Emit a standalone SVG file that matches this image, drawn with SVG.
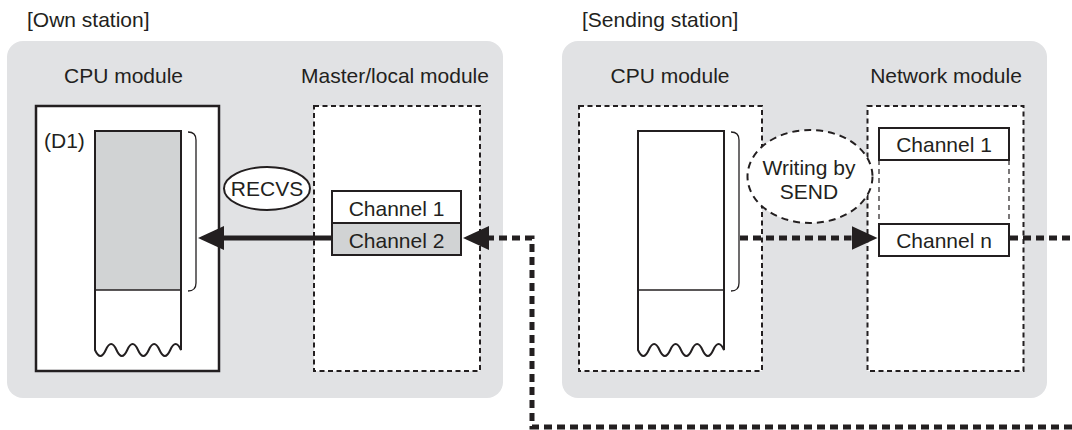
<svg xmlns="http://www.w3.org/2000/svg" width="1072" height="430" viewBox="0 0 1072 430">
<style>
text{font-family:"Liberation Sans",Arial,sans-serif;font-size:21px;fill:#231f20}
.mid{text-anchor:middle}
.panel{fill:#e1e2e4;stroke:none}
.solid{fill:#fff;stroke:#231f20;stroke-width:2.5}
.dash{fill:#fff;stroke:#231f20;stroke-width:2;stroke-dasharray:5 3.5}
.buf{fill:#fff;stroke:#231f20;stroke-width:2}
.gray{fill:#d1d3d4}
.thin{fill:none;stroke:#231f20;stroke-width:1.3}
.box{stroke:#231f20;stroke-width:2}
.conn{fill:none;stroke:#231f20;stroke-width:5;stroke-dasharray:8 5}
</style>
<defs>
<marker id="ah" markerUnits="userSpaceOnUse" viewBox="0 0 26 24" refX="0" refY="12" markerWidth="26" markerHeight="24" orient="auto">
<path d="M0,0 L26,12 L0,24 z" fill="#231f20"/>
</marker>
</defs>

<g id="own-station">
<text x="27" y="27">[Own station]</text>
<rect class="panel" x="7" y="41" width="496" height="357" rx="16"/>
</g>
<g id="sending-station">
<text x="582" y="27">[Sending station]</text>
<rect class="panel" x="562" y="41" width="485" height="357" rx="16"/>
</g>

<g id="own-cpu">
<text class="mid" x="123.5" y="83">CPU module</text>
<rect class="solid" x="36" y="106" width="183" height="265"/>
<text x="44" y="148">(D1)</text>
<path class="buf" d="M95,131 H181 V350 q-5.375,-12 -10.75,0 t-10.75,0 t-10.75,0 t-10.75,0 t-10.75,0 t-10.75,0 t-10.75,0 t-10.75,0 Z"/>
<rect class="gray" x="96" y="132" width="84" height="158"/>
<path class="thin" d="M95,290 H181" style="stroke-width:1.5"/>
<path class="thin" d="M188,132 Q196,132 196,140 V283 Q196,291 188,291"/>
</g>

<g id="master-local">
<text class="mid" x="395" y="83">Master/local module</text>
<rect class="dash" x="314" y="106" width="166" height="265"/>
<rect class="box" x="332" y="191" width="129" height="32" fill="#fff"/>
<text class="mid" x="396.5" y="216">Channel 1</text>
<rect class="box gray" x="332" y="223" width="129" height="32"/>
<text class="mid" x="396.5" y="248">Channel 2</text>
</g>

<g id="recvs">
<ellipse cx="267" cy="188.5" rx="43" ry="21.5" fill="#fff" stroke="#231f20" stroke-width="2"/>
<text class="mid" x="267" y="196">RECVS</text>
</g>

<g id="send-cpu">
<text class="mid" x="670" y="83">CPU module</text>
<rect class="dash" x="579" y="106" width="183" height="265"/>
<path class="buf" d="M638,131 H724 V350 q-5.375,-12 -10.75,0 t-10.75,0 t-10.75,0 t-10.75,0 t-10.75,0 t-10.75,0 t-10.75,0 t-10.75,0 Z"/>
<path class="thin" d="M638,290 H724" style="stroke-width:1.5"/>
<path class="thin" d="M731,132 Q739,132 739,140 V283 Q739,291 731,291"/>
</g>

<g id="network-module">
<text class="mid" x="946" y="83">Network module</text>
<rect class="dash" x="867.5" y="106" width="156" height="265"/>
<path d="M879,160 V224 M1009,160 V224" fill="none" stroke="#231f20" stroke-width="1.2" stroke-dasharray="5 4"/>
<rect class="box" x="879" y="128" width="130" height="32" fill="#fff"/>
<text class="mid" x="944" y="152">Channel 1</text>
<rect class="box" x="879" y="224" width="130" height="32" fill="#fff"/>
<text class="mid" x="944" y="248">Channel n</text>
</g>

<g id="writing-by-send">
<ellipse cx="810" cy="176.5" rx="62.5" ry="46.5" fill="#fff" stroke="#231f20" stroke-width="2" stroke-dasharray="7 5"/>
<text class="mid" x="809" y="175">Writing by</text>
<text class="mid" x="809" y="199">SEND</text>
</g>

<g id="connectors">
<path d="M332,238 H224" fill="none" stroke="#231f20" stroke-width="5" marker-end="url(#ah)"/>
<path class="conn" d="M1072,427 H532 V238 H489" marker-end="url(#ah)"/>
<path class="conn" d="M740,238 H851.5" marker-end="url(#ah)"/>
<path class="conn" d="M1010,238 H1072"/>
</g>
</svg>
